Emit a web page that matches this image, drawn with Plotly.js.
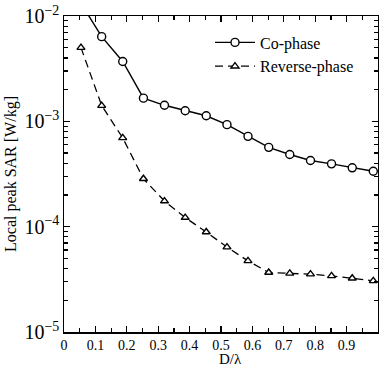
<!DOCTYPE html>
<html>
<head>
<meta charset="utf-8">
<script src="https://cdn.plot.ly/plotly-3.0.1.min.js"></script>
<style>html,body{margin:0;padding:0;background:#fff;overflow:hidden}#chart{width:379px;height:369px}</style>
</head>
<body>
<div id="chart"></div>
<script>
const dOverLambda = [0.054, 0.12, 0.187, 0.253, 0.32, 0.386, 0.453, 0.519, 0.586, 0.652, 0.719, 0.785, 0.852, 0.918, 0.985];
const coPhase = [1.32e-2, 6.37e-3, 3.70e-3, 1.66e-3, 1.42e-3, 1.26e-3, 1.13e-3, 9.3e-4, 7.2e-4, 5.66e-4, 4.84e-4, 4.25e-4, 3.95e-4, 3.62e-4, 3.36e-4];
const reversePhase = [5.01e-3, 1.41e-3, 6.96e-4, 2.85e-4, 1.75e-4, 1.22e-4, 8.9e-5, 6.4e-5, 4.73e-5, 3.67e-5, 3.6e-5, 3.54e-5, 3.41e-5, 3.24e-5, 3.06e-5];
const seriesNames = ['Co-phase', 'Reverse-phase'];
const xTickVals = [0, 0.1, 0.2, 0.3, 0.4, 0.5, 0.6, 0.7, 0.8, 0.9, 1];
const xTickText = ['0', '0.1', '0.2', '0.3', '0.4', '0.5', '0.6', '0.7', '0.8', '0.9', '1'];
const xTitle = 'D/λ';
const yTitle = 'Local peak SAR [W/kg]';

const serif = 'Liberation Serif, Times New Roman, serif';
const traces = [
  {x: dOverLambda, y: coPhase, name: seriesNames[0], type: 'scatter', mode: 'lines+markers',
   line: {color: '#000', width: 1.4},
   marker: {symbol: 'circle', size: 8, color: '#fff', line: {color: '#000', width: 1.4}}},
  {x: dOverLambda, y: reversePhase, name: seriesNames[1], type: 'scatter', mode: 'lines+markers',
   line: {color: '#000', width: 1.3, dash: '8px,5px'},
   marker: {symbol: 'triangle-up', size: 7, color: '#fff', line: {color: '#000', width: 1.4}}}
];
const layout = {
  width: 379, height: 369,
  margin: {l: 64, r: 1, t: 16, b: 37},
  paper_bgcolor: '#fff', plot_bgcolor: '#fff',
  font: {family: serif, color: '#000', size: 16},
  showlegend: true,
  legend: {x: 0.465, y: 0.97, xanchor: 'left', yanchor: 'top', bgcolor: 'rgba(0,0,0,0)',
           font: {family: serif, size: 16, color: '#000'}, tracegroupgap: 0, itemwidth: 40},
  annotations: [{text: xTitle, xref: 'paper', yref: 'paper', x: 0.53, y: -0.1145,
                 xanchor: 'center', yanchor: 'bottom', showarrow: false, borderpad: 0,
                 font: {family: serif, size: 15, color: '#000'}}],
  xaxis: {range: [0, 1], tickvals: xTickVals, ticktext: xTickText, ticks: 'inside', ticklen: 6,
          tickwidth: 1.3, tickcolor: '#000', showline: true, linecolor: '#000', linewidth: 1.5,
          mirror: 'allticks', showgrid: false, zeroline: false, automargin: false, ticklabelstandoff: 0,
          minor: {dtick: 0.05, ticks: 'inside', ticklen: 4, tickwidth: 1.2, tickcolor: '#000', showgrid: false},
          tickfont: {family: serif, size: 14, color: '#000'}},
  yaxis: {type: 'log', range: [-5, -2], dtick: 1, exponentformat: 'power', ticks: 'inside', ticklen: 6,
          tickwidth: 1.3, tickcolor: '#000', showline: true, linecolor: '#000', linewidth: 1.5,
          mirror: 'allticks', showgrid: false, zeroline: false, automargin: false,
          minor: {dtick: 'D1', ticks: 'inside', ticklen: 4, tickwidth: 1.2, tickcolor: '#000', showgrid: false},
          tickfont: {family: serif, size: 16, color: '#000'},
          title: {text: yTitle, font: {family: serif, size: 16, color: '#000'}, standoff: 4}}
};
Plotly.newPlot('chart', traces, layout, {displayModeBar: false, staticPlot: true});
</script>
</body>
</html>
